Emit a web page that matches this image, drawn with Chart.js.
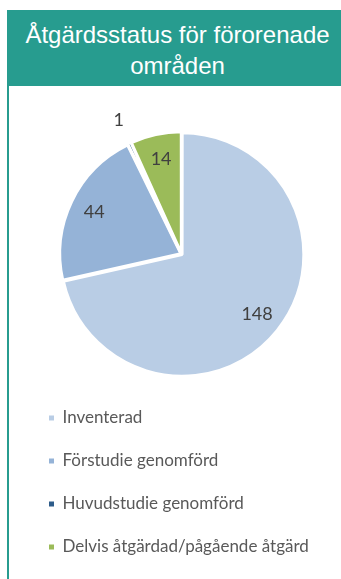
<!DOCTYPE html>
<html>
<head>
<meta charset="utf-8">
<script src="https://cdn.jsdelivr.net/npm/chart.js@4.4.1/dist/chart.umd.min.js"></script>
<style>
  html, body { margin: 0; padding: 0; background: #fff; width: 341px; height: 579px; overflow: hidden; }
  .head {
    position: absolute; left: 7px; top: 10px; width: 341px; height: 76px;
    background: #279C8F; color: #fff; text-align: center; box-sizing: border-box; padding-top: 9px;
    font: 24px/31px "Liberation Sans", Arial, sans-serif;
  }
  .rule { position: absolute; left: 7px; top: 86px; width: 2px; height: 493px; background: #279C8F; }
  .wrap { position: absolute; left: 10px; top: 86px; width: 331px; height: 510px; }
</style>
</head>
<body>
<div class="head">Åtgärdsstatus för förorenade<br>områden</div>
<div class="rule"></div>
<div class="wrap"><canvas id="pie" width="331" height="510"></canvas></div>
<script>
/* Åtgärdsstatus — pie */

const categories = ['Inventerad', 'Förstudie genomförd', 'Huvudstudie genomförd', 'Delvis åtgärdad/pågående åtgärd'];
const counts = [148, 44, 1, 14];
const sliceColors = ['#B9CDE5', '#95B3D7', '#2E5C8A', '#9BBB59'];

// number labels on / next to the slices
const sliceLabels = {
  id: 'sliceLabels',
  afterDatasetsDraw(chart) {
    const meta = chart.getDatasetMeta(0);
    const total = counts.reduce((a, b) => a + b, 0);
    const ctx = chart.ctx;
    ctx.save();
    ctx.font = '18px Lato';
    ctx.fillStyle = '#404040';
    ctx.textAlign = 'center';
    ctx.textBaseline = 'middle';
    meta.data.forEach((arc, i) => {
      const p = arc.getProps(['x', 'y', 'startAngle', 'endAngle', 'outerRadius'], true);
      const mid = (p.startAngle + p.endAngle) / 2;
      const r = counts[i] / total < 0.03 ? p.outerRadius * 1.22 : p.outerRadius * 0.8;
      ctx.fillText(String(counts[i]), p.x + Math.cos(mid) * r, p.y + Math.sin(mid) * r);
    });
    ctx.restore();
  }
};

new Chart(document.getElementById('pie'), {
  type: 'pie',
  data: {
    labels: categories,
    datasets: [{
      data: counts,
      backgroundColor: sliceColors,
      borderColor: '#fff',
      borderWidth: 3,
      offset: 3,
    }]
  },
  options: {
    responsive: false,
    animation: false,
    radius: 121,
    layout: { padding: { left: 13, right: 1, top: 38.5, bottom: 30.5 } },
    plugins: {
      tooltip: { enabled: false },
      legend: {
        position: 'bottom',
        align: 'start',
        labels: {
          boxWidth: 5,
          boxHeight: 5,
          padding: 26,
          color: '#595959',
          font: { family: 'Lato', size: 17 },
          generateLabels: chart =>
            Chart.overrides.pie.plugins.legend.labels.generateLabels(chart)
              .map(item => ({ ...item, lineWidth: 0, strokeStyle: item.fillStyle })),
        }
      }
    }
  },
  plugins: [sliceLabels]
});
</script>
</body>
</html>
